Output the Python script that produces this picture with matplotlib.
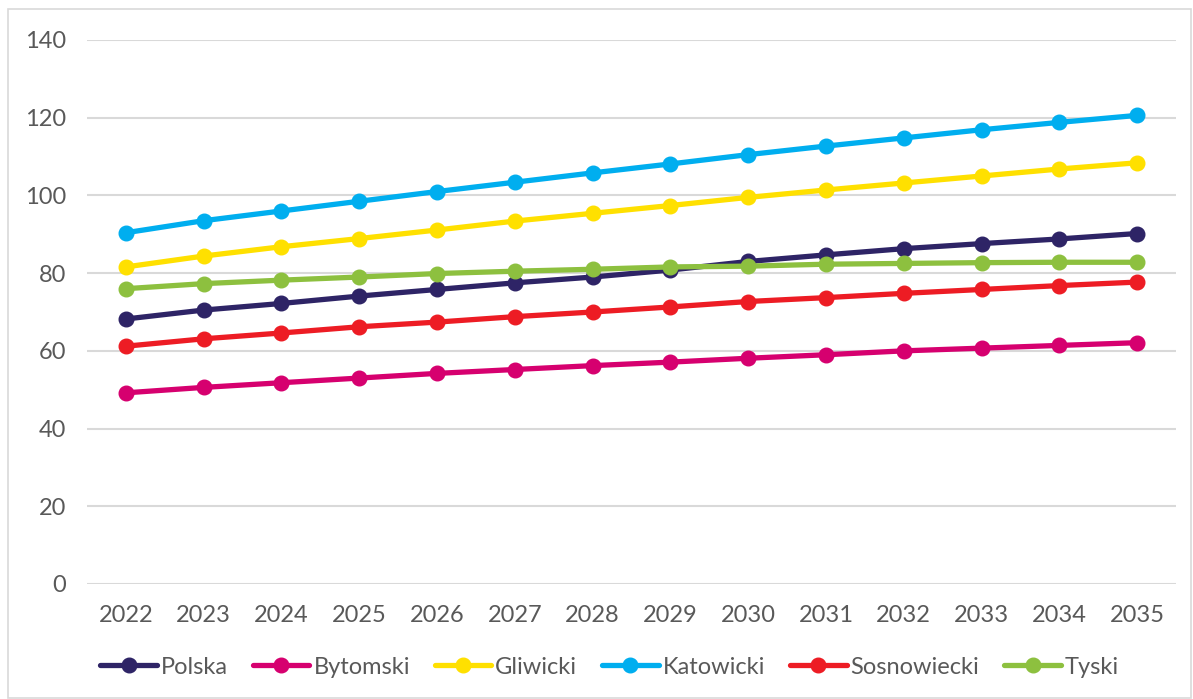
import matplotlib.pyplot as plt
from matplotlib.patches import Rectangle

# lata i wartości
lata = ['2022', '2023', '2024', '2025', '2026', '2027', '2028',
        '2029', '2030', '2031', '2032', '2033', '2034', '2035']

polska = [68.2, 70.5, 72.2, 74.1, 75.8, 77.5, 79.0, 80.8, 83.0, 84.7, 86.3, 87.6, 88.8, 90.2]
bytomski = [49.2, 50.6, 51.8, 53.0, 54.2, 55.2, 56.2, 57.1, 58.1, 59.0, 60.0, 60.7, 61.4, 62.1]
gliwicki = [81.6, 84.4, 86.8, 88.9, 91.1, 93.4, 95.4, 97.4, 99.5, 101.4, 103.2, 105.0, 106.8, 108.4]
katowicki = [90.4, 93.5, 96.0, 98.5, 101.0, 103.4, 105.8, 108.1, 110.5, 112.7, 114.8, 116.9, 118.8, 120.6]
sosnowiecki = [61.2, 63.1, 64.6, 66.2, 67.4, 68.8, 70.0, 71.3, 72.7, 73.7, 74.8, 75.8, 76.8, 77.7]
tyski = [76.0, 77.3, 78.2, 79.0, 79.9, 80.5, 81.0, 81.6, 81.8, 82.3, 82.5, 82.7, 82.8, 82.8]

nazwy = ['Polska', 'Bytomski', 'Gliwicki', 'Katowicki', 'Sosnowiecki', 'Tyski']
serie = [polska, bytomski, gliwicki, katowicki, sosnowiecki, tyski]
kolory = ['#2E2466', '#D6006F', '#FFE000', '#00AEEF', '#ED1C24', '#8DC03F']

plt.rcParams['font.family'] = ['Lato', 'DejaVu Sans']
szary = '#595959'

fig = plt.figure(figsize=(11.93, 6.99), dpi=100)
ax = fig.add_axes([87 / 1193, 1 - 584 / 699, (1176 - 87) / 1193, (584 - 40) / 699])

x = list(range(len(lata)))
for nazwa, wartosci, kolor in zip(nazwy, serie, kolory):
    ax.plot(x, wartosci, color=kolor, linewidth=3.8, marker='o', markersize=10.5,
            label=nazwa, solid_capstyle='round')

ax.set_xlim(-0.5, len(lata) - 0.5)
ax.set_ylim(0, 140)
ax.set_yticks(range(0, 141, 20))
ax.set_xticks(x)
ax.set_xticklabels(lata)
ax.grid(axis='y', color='#D9D9D9', linewidth=1.5)
ax.set_axisbelow(True)
for s in ax.spines.values():
    s.set_visible(False)
ax.tick_params(axis='both', length=0, labelsize=17, labelcolor=szary)
ax.tick_params(axis='x', pad=15)
ax.tick_params(axis='y', pad=15)

# legenda pod wykresem
fig.legend(loc='center', bbox_to_anchor=(0.511, 1 - 667 / 699), ncol=6, frameon=False,
           fontsize=17, labelcolor=szary, handlelength=2.4, handletextpad=0.17,
           columnspacing=1.05)

# ramka wokół wykresu
fig.patches.append(Rectangle((8 / 1193, 0.002), 1 - 10 / 1193, 1 - 10 / 699,
                             transform=fig.transFigure, fill=False,
                             edgecolor='#D9D9D9', linewidth=1.2))

plt.savefig('out.png', dpi=100)
